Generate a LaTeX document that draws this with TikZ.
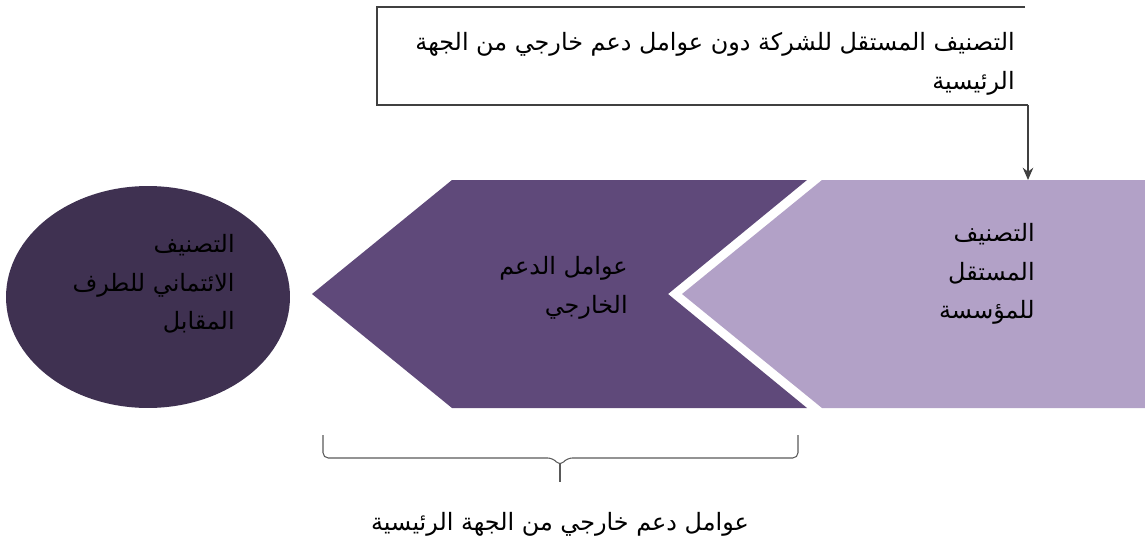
\documentclass[tikz,border=0pt]{standalone}
\usepackage{fontspec}
\newfontfamily\arabicfont[Script=Arabic]{DejaVu Sans}
\TeXXeTstate=1
\usetikzlibrary{arrows.meta,shapes.geometric}
\definecolor{darkpurple}{HTML}{5F497A}
\definecolor{lightpurple}{HTML}{B2A1C7}
\definecolor{circlepurple}{HTML}{3F3151}
\definecolor{framegray}{HTML}{404040}
\tikzset{
  arlabel/.style={font=\arabicfont\fontsize{13.6}{22}\selectfont, align=right, text=black, inner sep=0pt},
}
\begin{document}
\begin{tikzpicture}[x=0.02cm,y=-0.02cm]
\useasboundingbox (0,0) rectangle (1145,544);
% the three stages
\fill[lightpurple] (822,180) -- (1145,180) -- (1145,408) -- (822,408) -- (682,294) -- cycle;
\fill[darkpurple] (452,180) -- (807,180) -- (668,294) -- (807,408) -- (452,408) -- (312,294) -- cycle;
\node[ellipse, fill=circlepurple, minimum width=5.68cm, minimum height=4.44cm, inner sep=0pt] (party) at (148,297) {};
\node[arlabel, anchor=north east] (partytext) at (235,234) {\beginR التصنيف\endR\\ \beginR الائتماني للطرف\endR\\ \beginR المقابل\endR};
\node[arlabel, anchor=north east] (supporttext) at (628,256) {\beginR عوامل الدعم\endR\\ \beginR الخارجي\endR};
\node[arlabel, anchor=north east] (issuertext) at (1035,223) {\beginR التصنيف\endR\\ \beginR المستقل\endR\\ \beginR للمؤسسة\endR};
% top note with arrow
\coordinate (issuertop) at (1028,180);
\coordinate (framecorner) at (1028,105);
\draw[framegray, line width=0.7pt] (1025,7) -- (377,7) -- (377,105) -- (framecorner);
\draw[framegray, line width=0.7pt, -{Stealth[length=7pt,width=6pt]}] (framecorner) -- (issuertop);
\node[arlabel, anchor=north east] (notetext) at (1015,32) {\beginR التصنيف المستقل للشركة دون عوامل دعم خارجي من الجهة\endR\\ \beginR الرئيسية\endR};
% brace under the support stage
\coordinate (bracetip) at (560,482);
\draw[gray!70!black, line width=0.6pt, rounded corners=3pt] (323,435) -- (323,458) -- (553,458) -- (560,466) -- (567,458) -- (798,458) -- (798,435);
\draw[gray!70!black, line width=0.6pt] (560,464) -- (bracetip);
\node[arlabel, below=17pt] (bracetext) at (bracetip) {\beginR عوامل دعم خارجي من الجهة الرئيسية\endR};
\end{tikzpicture}
\end{document}
